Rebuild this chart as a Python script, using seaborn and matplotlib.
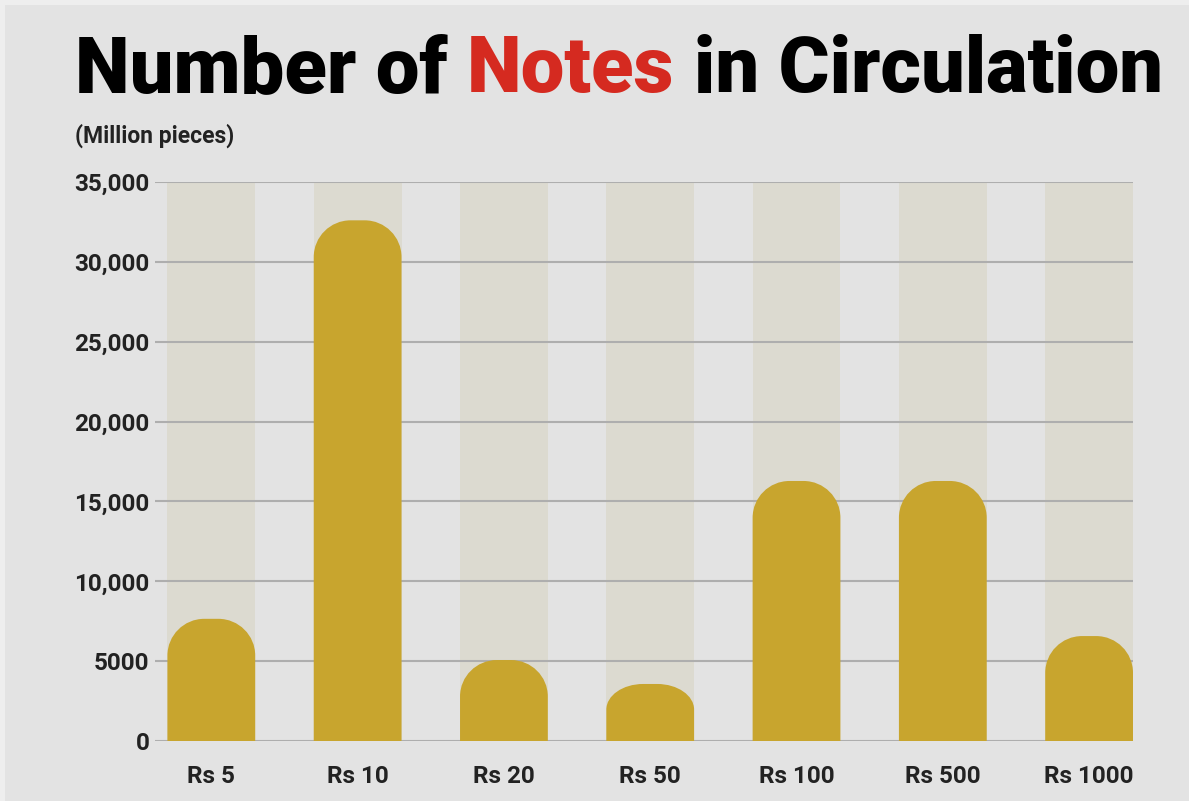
import numpy as np
import pandas as pd
import matplotlib
matplotlib.use("Agg")
import matplotlib.pyplot as plt
from matplotlib.path import Path
from matplotlib.patches import PathPatch
import seaborn as sns

# ---- data ----
categories = ["Rs 5", "Rs 10", "Rs 20", "Rs 50", "Rs 100", "Rs 500", "Rs 1000"]
notes_million = [7650, 32600, 5070, 3570, 16280, 16280, 6570]
y_ticks = [0, 5000, 10000, 15000, 20000, 25000, 30000, 35000]
y_tick_labels = ["0", "5000", "10,000", "15,000", "20,000", "25,000", "30,000", "35,000"]
title_parts = ["Number of", "Notes", "in Circulation"]
subtitle = "(Million pieces)"

BG = "#e3e3e3"
COL_BG = "#dcdad0"
GOLD = "#c8a52e"
GRID = "#aeaeae"
TXT = "#222222"
RED = "#d52a20"

sns.set_theme(style="white")
plt.rcParams["font.family"] = ["Roboto", "DejaVu Sans"]

fig = plt.figure(figsize=(11.89, 8.01), dpi=100, facecolor=BG)
# thin light frame at left / top as in reference
fig.patches.append(plt.Rectangle((0, 0), 5/1189, 1, transform=fig.transFigure,
                                 facecolor="#eeeeee", edgecolor="none", zorder=0))
fig.patches.append(plt.Rectangle((0, 1-5/801), 1, 5/801, transform=fig.transFigure,
                                 facecolor="#eeeeee", edgecolor="none", zorder=0))

ax = fig.add_axes([155/1189, 1-741/801, (1133-155)/1189, (741-182)/801])
ax.set_facecolor(BG)

df = pd.DataFrame({"denom": categories, "value": notes_million})
sns.barplot(data=df, x="denom", y="value", color=GOLD, width=0.6,
            saturation=1, ax=ax, zorder=2)

ax.set_ylim(y_ticks[0], y_ticks[-1])
ax.set_xlim(-0.385, 6.30)

# background columns and rounded-top bars
ymax = y_ticks[-1]
bars = list(ax.patches)
for p in bars:
    x0 = p.get_x(); w = p.get_width(); h = p.get_height()
    ax.add_patch(plt.Rectangle((x0, 0), w, ymax, facecolor=COL_BG,
                               edgecolor="none", zorder=0.2))
    rx = w * 0.42
    ry = min(2300, h * 0.45)
    k = 0.5523
    x1 = x0 + w
    verts = [(x0, 0), (x0, h - ry),
             (x0, h - ry + k*ry), (x0 + rx - k*rx, h), (x0 + rx, h),
             (x1 - rx, h),
             (x1 - rx + k*rx, h), (x1, h - ry + k*ry), (x1, h - ry),
             (x1, 0), (x0, 0)]
    codes = [Path.MOVETO, Path.LINETO,
             Path.CURVE4, Path.CURVE4, Path.CURVE4,
             Path.LINETO,
             Path.CURVE4, Path.CURVE4, Path.CURVE4,
             Path.LINETO, Path.CLOSEPOLY]
    ax.add_patch(PathPatch(Path(verts, codes), facecolor=GOLD,
                           edgecolor="none", zorder=2))
    p.remove()

ax.set_yticks(y_ticks)
ax.set_yticklabels(y_tick_labels, fontsize=17.5, fontweight="bold", color=TXT)
for lab in ax.get_xticklabels():
    lab.set_fontsize(17.5); lab.set_fontweight("bold"); lab.set_color(TXT)
ax.tick_params(axis="y", length=0, pad=4)
ax.tick_params(axis="x", length=0, pad=17)
ax.set_xlabel(""); ax.set_ylabel("")
ax.set_axisbelow(True)
ax.yaxis.grid(True, color=GRID, linewidth=1.5)
ax.xaxis.grid(False)
for s in ax.spines.values():
    s.set_visible(False)

# title in three colour parts
fig.canvas.draw()
r = fig.canvas.get_renderer()
tsize = 56
x = 75 / 1189
ybase = 1 - 92 / 801
colors = ["black", RED, "black"]
tmp = fig.text(0, 0, "n n", fontsize=tsize, fontweight="black")
tmp2 = fig.text(0, 0, "nn", fontsize=tsize, fontweight="black")
space = (tmp.get_window_extent(r).width - tmp2.get_window_extent(r).width) / 1189
tmp.remove(); tmp2.remove()
for part, c in zip(title_parts, colors):
    t = fig.text(x, ybase, part, fontsize=tsize, fontweight="black", color=c,
                 va="baseline", ha="left")
    x += t.get_window_extent(r).width / 1189 + space

fig.text(75/1189, 1 - 143/801, subtitle, fontsize=16.5, fontweight="bold",
         color=TXT, va="baseline", ha="left")

fig.savefig("out.png", dpi=100, facecolor=BG)
